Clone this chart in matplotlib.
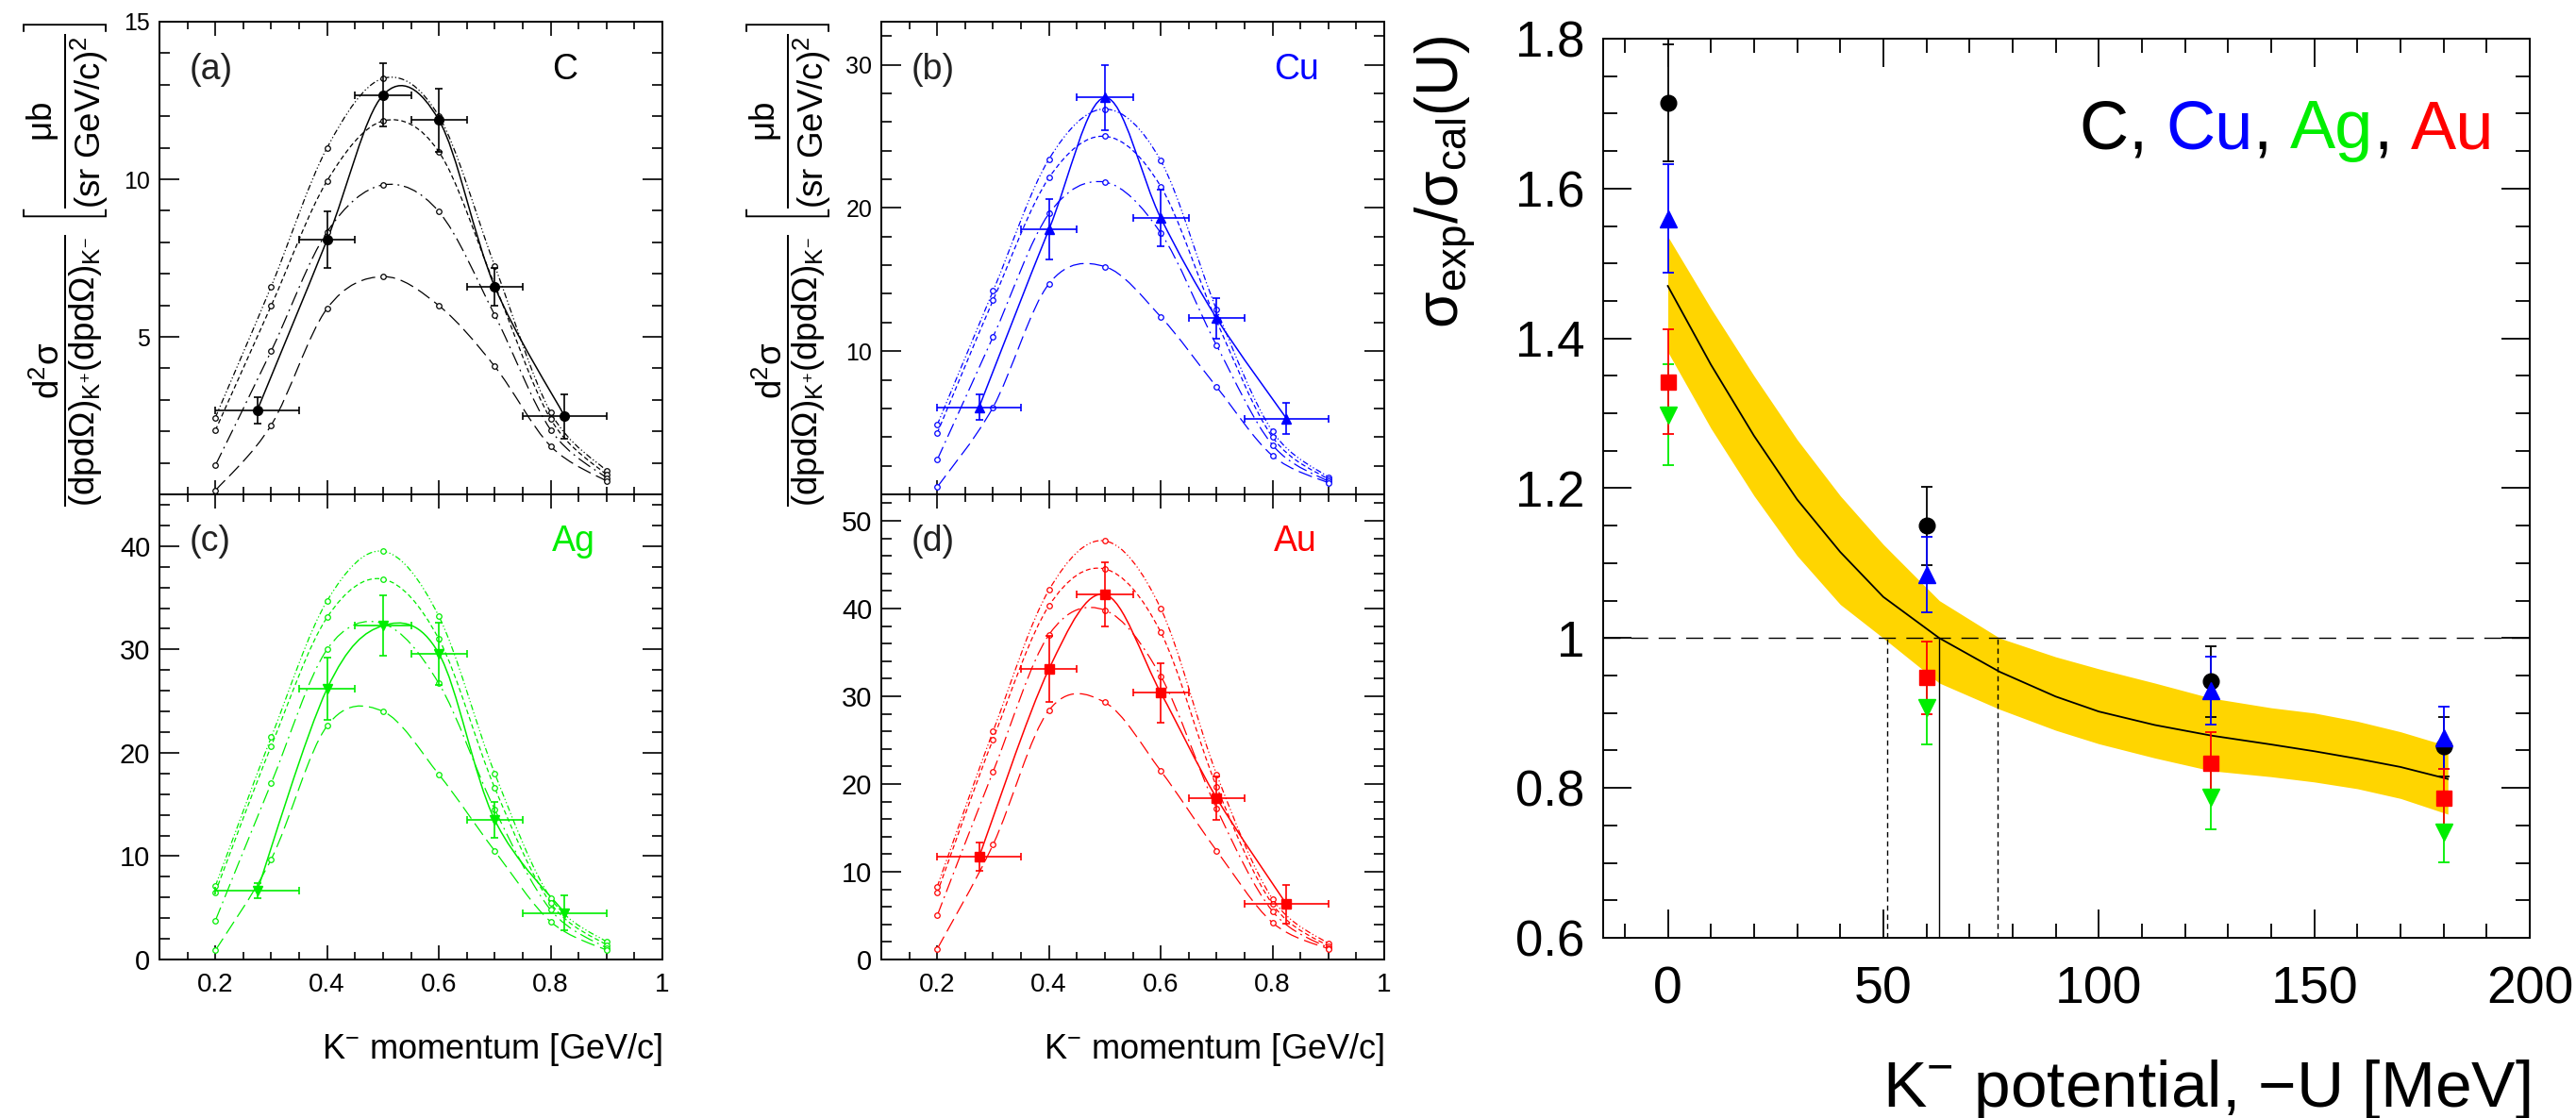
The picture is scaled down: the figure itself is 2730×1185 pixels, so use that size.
import numpy as np
import matplotlib
matplotlib.use('Agg')
import matplotlib.pyplot as plt
from matplotlib.path import Path
from matplotlib.patches import PathPatch
from matplotlib.ticker import MultipleLocator, FixedLocator, FuncFormatter

plt.rcParams['font.family'] = ['Liberation Sans', 'DejaVu Sans']
plt.rcParams['mathtext.fontset'] = 'custom'
plt.rcParams['mathtext.rm'] = 'Liberation Sans'
plt.rcParams['mathtext.it'] = 'Liberation Sans:italic'
plt.rcParams['mathtext.bf'] = 'Liberation Sans:bold'
plt.rcParams['mathtext.sf'] = 'Liberation Sans'

BLUE = '#0000FF'
GREEN = '#00EE00'
RED = '#FF0000'
GOLD = '#FFD500'

# --- K- momentum spectra (panels a-d) ---
p_theory = [0.2, 0.3, 0.4, 0.5, 0.6, 0.7, 0.8, 0.9]
p_data = [0.275, 0.4, 0.5, 0.6, 0.7, 0.825]
p_bin_lo = [0.2, 0.35, 0.45, 0.55, 0.65, 0.75]
p_bin_hi = [0.35, 0.45, 0.55, 0.65, 0.75, 0.9]

C_data = [2.67, 8.08, 12.67, 11.88, 6.59, 2.48]
C_err = [0.41, 0.89, 1.0, 1.0, 0.6, 0.7]
C_dashdotdot = [2.44, 6.6, 11.0, 13.2, 12.0, 7.25, 2.6, 0.75]
C_dash = [2.03, 5.99, 9.95, 11.85, 10.87, 6.65, 2.39, 0.62]
C_longdashdot = [0.92, 4.55, 8.33, 9.82, 8.97, 5.69, 2.05, 0.52]
C_longdash = [0.12, 2.2, 5.9, 6.91, 5.99, 4.06, 1.53, 0.42]

Cu_data = [6.09, 18.5, 27.7, 19.3, 12.3, 5.3]
Cu_err = [0.9, 2.1, 2.3, 2.0, 1.4, 1.1]
Cu_dashdotdot = [4.85, 14.2, 23.4, 26.9, 23.3, 12.9, 4.4, 1.2]
Cu_dash = [4.28, 13.55, 22.1, 25.0, 21.5, 12.1, 4.0, 1.05]
Cu_longdashdot = [2.41, 11.0, 19.6, 21.8, 18.25, 10.4, 3.45, 0.9]
Cu_longdash = [0.51, 6.09, 14.7, 15.9, 12.4, 7.5, 2.7, 0.8]

Ag_data = [6.67, 26.2, 32.3, 29.6, 13.5, 4.5]
Ag_err = [0.7, 3.0, 2.9, 3.0, 1.7, 1.7]
Ag_dashdotdot = [7.1, 21.5, 34.7, 39.5, 33.2, 18.0, 5.95, 1.7]
Ag_dash = [6.5, 20.65, 33.1, 36.8, 31.0, 16.6, 5.46, 1.4]
Ag_longdashdot = [3.76, 17.06, 30.0, 32.5, 26.7, 14.5, 4.8, 1.1]
Ag_longdash = [0.88, 9.7, 22.6, 24.0, 17.9, 10.5, 3.66, 0.9]

Au_data = [11.7, 33.1, 41.6, 30.4, 18.4, 6.3]
Au_err = [1.6, 3.8, 3.7, 3.4, 2.5, 2.2]
Au_dashdotdot = [8.3, 26.0, 42.1, 47.7, 40.0, 21.1, 6.9, 1.8]
Au_dash = [7.6, 25.1, 40.3, 44.5, 37.3, 19.7, 6.3, 1.5]
Au_longdashdot = [5.0, 21.4, 37.0, 39.8, 32.3, 17.2, 5.5, 1.3]
Au_longdash = [1.2, 13.1, 28.4, 29.3, 21.5, 12.4, 4.2, 1.2]

# --- ratio vs potential (right panel) ---
U_points = [0, 60, 126, 180]
ratio_C = [1.714, 1.15, 0.942, 0.855]
ratio_C_err = [0.078, 0.052, 0.047, 0.04]
ratio_Cu = [1.56, 1.085, 0.93, 0.867]
ratio_Cu_err = [0.072, 0.05, 0.045, 0.042]
ratio_Ag = [1.298, 0.907, 0.787, 0.741]
ratio_Ag_err = [0.067, 0.049, 0.042, 0.04]
ratio_Au = [1.342, 0.947, 0.833, 0.786]
ratio_Au_err = [0.07, 0.048, 0.042, 0.04]

U_curve = [0, 10, 20, 30, 40, 50, 63, 77, 90, 100, 113, 126, 140, 150, 160, 170, 181]
ratio_curve = [1.47, 1.365, 1.27, 1.185, 1.115, 1.055, 1.0, 0.955, 0.922, 0.902,
               0.884, 0.870, 0.858, 0.849, 0.839, 0.828, 0.812]
band_hi = [1.536, 1.44, 1.35, 1.265, 1.19, 1.125, 1.05, 1.0, 0.975, 0.959,
           0.94, 0.92, 0.907, 0.90, 0.889, 0.875, 0.856]
band_lo = [1.382, 1.28, 1.19, 1.11, 1.045, 1.0, 0.94, 0.905, 0.877, 0.859,
           0.84, 0.823, 0.815, 0.808, 0.799, 0.786, 0.765]
U_cross = [51, 63, 76.6]

theory_styles = [(0, (5, 2, 1, 2, 1, 2)), (0, (4, 2.5)), (0, (12, 4, 1.5, 4)), (0, (12, 5))]


def smooth_path(xs, ys):
    # Catmull-Rom through the points, drawn as cubic Bezier segments
    pts = np.column_stack([xs, ys]).astype(float)
    n = len(pts)
    verts = [pts[0]]
    codes = [Path.MOVETO]
    for i in range(n - 1):
        p0 = pts[i - 1] if i > 0 else pts[i]
        p1 = pts[i]
        p2 = pts[i + 1]
        p3 = pts[i + 2] if i + 2 < n else pts[i + 1]
        verts += [p1 + (p2 - p0) / 6, p2 - (p3 - p1) / 6, p2]
        codes += [Path.CURVE4] * 3
    return Path(verts, codes)


fmt_g = FuncFormatter(lambda v, pos: '%g' % round(v, 3))

fig = plt.figure(figsize=(27.3, 11.85), dpi=100)

W, H = 2730, 1185


def box(x0, y0, x1, y1):
    return [x0 / W, 1 - y1 / H, (x1 - x0) / W, (y1 - y0) / H]


ax_a = fig.add_axes(box(169, 23, 702, 524))
ax_c = fig.add_axes(box(169, 524, 702, 1017))
ax_b = fig.add_axes(box(934, 23, 1467, 524))
ax_d = fig.add_axes(box(934, 524, 1467, 1017))
ax_r = fig.add_axes(box(1699, 41, 2681, 994))

panels = [
    (ax_a, C_data, C_err, [C_dashdotdot, C_dash, C_longdashdot, C_longdash], 'black', 'o', 7,
     '(a)', 'C', 15, [5, 10, 15], 1, 18, True),
    (ax_b, Cu_data, Cu_err, [Cu_dashdotdot, Cu_dash, Cu_longdashdot, Cu_longdash], BLUE, '^', 7.5,
     '(b)', 'Cu', 33, [10, 20, 30], 2, 18, True),
    (ax_c, Ag_data, Ag_err, [Ag_dashdotdot, Ag_dash, Ag_longdashdot, Ag_longdash], GREEN, 'v', 7.5,
     '(c)', 'Ag', 45, [0, 10, 20, 30, 40], 2, 21, False),
    (ax_d, Au_data, Au_err, [Au_dashdotdot, Au_dash, Au_longdashdot, Au_longdash], RED, 's', 6.5,
     '(d)', 'Au', 53, [0, 10, 20, 30, 40, 50], 2, 21, False),
]

for ax, data, err, curves, color, marker, ms, tag, elem, ytop, yticks, yminor, yfs, top in panels:
    for vals, ls in zip(curves, theory_styles):
        ax.add_patch(PathPatch(smooth_path(p_theory, vals), fill=False, ec=color, lw=0.9, ls=ls))
        ax.plot(p_theory, vals, ls='none', marker='o', ms=4, mfc='white', mec=color, mew=0.9)
    ax.add_patch(PathPatch(smooth_path(p_data, data), fill=False, ec=color, lw=1.1))
    xerr = [np.subtract(p_data, p_bin_lo), np.subtract(p_bin_hi, p_data)]
    ax.errorbar(p_data, data, yerr=err, xerr=xerr, fmt=marker, color=color, ms=ms,
                elinewidth=1.2, capsize=3, capthick=1.2)
    ax.set_xlim(0.1, 1.0)
    ax.set_ylim(0, ytop)
    ax.xaxis.set_major_locator(MultipleLocator(0.2))
    ax.xaxis.set_minor_locator(MultipleLocator(0.05))
    ax.xaxis.set_major_formatter(fmt_g)
    ax.yaxis.set_major_locator(FixedLocator(yticks))
    ax.yaxis.set_minor_locator(MultipleLocator(yminor))
    ax.tick_params(which='both', direction='in', top=True, right=True, width=1.2)
    ax.tick_params(axis='x', which='major', length=10.5, labelsize=20, pad=10)
    ax.tick_params(axis='x', which='minor', length=5.5)
    ax.tick_params(axis='y', which='major', length=15, labelsize=yfs, pad=7)
    ax.tick_params(axis='y', which='minor', length=8)
    if top:
        ax.tick_params(axis='x', labelbottom=False)
    for s in ax.spines.values():
        s.set_linewidth(1.4)
    ax.text(0.06, 0.935, tag, transform=ax.transAxes, ha='left', va='top', fontsize=27, color='#222222')
    ax.text(0.78, 0.935, elem, transform=ax.transAxes, ha='left', va='top', fontsize=27, color=color)

ylab = (r'$\dfrac{\mathrm{d^{2}σ}}{\mathrm{(dpdΩ)_{K^{+}}(dpdΩ)_{K^{-}}}}\;'
        r'\left[\dfrac{\mathrm{μb}}{\mathrm{(sr\ GeV/c)^{2}}}\right]$')
fig.text(0.0255, 0.981, ylab, rotation=90, ha='center', va='top', fontsize=26.5)
fig.text(0.306, 0.981, ylab, rotation=90, ha='center', va='top', fontsize=26.5)

fig.text(702 / W, 1 - 1122 / H, r'K$^{-}$ momentum [GeV/c]', ha='right', va='baseline', fontsize=26)
fig.text(1467 / W, 1 - 1122 / H, r'K$^{-}$ momentum [GeV/c]', ha='right', va='baseline', fontsize=26)

# --- right panel ---
ax = ax_r
ax.fill_between(U_curve, band_lo, band_hi, color=GOLD, lw=0, zorder=1)
ax.plot(U_curve, ratio_curve, color='black', lw=1.3, zorder=2)
ax.axhline(1.0, color='black', lw=1.0, ls=(0, (13, 8)), zorder=2)
ax.vlines(U_cross, 0.6, 1.0, colors='black', lw=1.0,
          linestyles=[(0, (4, 3)), 'solid', (0, (4, 3))], zorder=2)

series = [(ratio_C, ratio_C_err, 'black', 'o', 12),
          (ratio_Cu, ratio_Cu_err, BLUE, '^', 13),
          (ratio_Ag, ratio_Ag_err, GREEN, 'v', 13),
          (ratio_Au, ratio_Au_err, RED, 's', 11)]
for vals, err, color, marker, ms in series:
    ax.errorbar(U_points, vals, yerr=err, fmt=marker, color=color, ms=ms,
                elinewidth=1.3, capsize=4, capthick=1.3, zorder=3)

ax.set_xlim(-15, 200)
ax.set_ylim(0.6, 1.8)
ax.xaxis.set_major_locator(MultipleLocator(50))
ax.xaxis.set_minor_locator(MultipleLocator(10))
ax.yaxis.set_major_locator(MultipleLocator(0.2))
ax.yaxis.set_minor_locator(MultipleLocator(0.05))
ax.xaxis.set_major_formatter(fmt_g)
ax.yaxis.set_major_formatter(fmt_g)
ax.tick_params(which='both', direction='in', top=True, right=True, width=1.3)
ax.tick_params(which='major', length=21.5)
ax.tick_params(which='minor', length=10.5)
ax.tick_params(axis='x', labelsize=40, pad=21)
ax.tick_params(axis='y', labelsize=38, pad=14)
for s in ax.spines.values():
    s.set_linewidth(1.4)

# element list with black commas, built right to left
t = ax.text(0.962, 0.878, 'Au', transform=ax.transAxes, ha='right', va='baseline',
            fontsize=52, color=RED)
for txt, color, gap in [(',', 'black', -14), ('Ag', GREEN, 0), (',', 'black', -14),
                        ('Cu', BLUE, 0), (',', 'black', -14), ('C', 'black', 0)]:
    t = ax.annotate(txt, xy=(0, 0), xycoords=t, xytext=(gap, 0), textcoords='offset points',
                    ha='right', va='bottom', fontsize=52, color=color)

fig.text(0.561, 0.968, r'$\mathrm{σ_{exp}/σ_{cal}(U)}$', rotation=90, ha='center', va='top', fontsize=45)
fig.text(2681 / W, 1 - 1173 / H, 'K$^{-}$ potential, −U [MeV]', ha='right', va='baseline', fontsize=50)

fig.savefig('out.png', dpi=100, facecolor='white')
